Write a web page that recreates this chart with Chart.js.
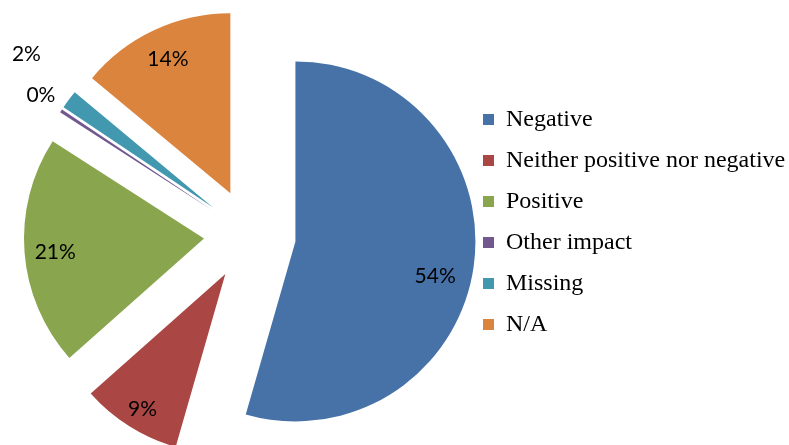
<!DOCTYPE html>
<html>
<head>
<meta charset="utf-8">
<script src="https://cdn.jsdelivr.net/npm/chart.js@4/dist/chart.umd.min.js"></script>
<style>
  html, body { margin: 0; padding: 0; background: #ffffff; }
  #wrap { width: 789px; height: 445px; }
</style>
</head>
<body>
<div id="wrap"><canvas id="chart"></canvas></div>
<script>
const categories = ["Negative", "Neither positive nor negative", "Positive", "Other impact", "Missing", "N/A"];
const shares = [54.45, 9.0, 20.65, 0.3, 1.65, 13.95];
const sliceColors = ["#4672a8", "#aa4643", "#89a54e", "#71588f", "#4198af", "#db843d"];

// label placement, as a fraction of the radius from each exploded slice's centre
const labelDist = [0.80, 0.88, 0.83, 1.14, 1.34, 0.82];
const labelTurn = [6, -0.7, -1, 0.5, 2.5, 0.1]; // degrees, clockwise

const EXPLODE = 46;
const RADIUS = 180;

// move every slice out along its middle angle (all slices same distance)
const explodePlugin = {
  id: "explode",
  beforeDatasetsDraw(chart) {
    const area = chart.chartArea;
    const cx = (area.left + area.right) / 2;
    const cy = (area.top + area.bottom) / 2;
    chart.getDatasetMeta(0).data.forEach((arc) => {
      const mid = (arc.startAngle + arc.endAngle) / 2;
      arc.x = cx + Math.cos(mid) * EXPLODE;
      arc.y = cy + Math.sin(mid) * EXPLODE;
    });
  },
};

const percentPlugin = {
  id: "percentLabels",
  afterDatasetsDraw(chart) {
    const ctx = chart.ctx;
    const meta = chart.getDatasetMeta(0);
    ctx.save();
    ctx.font = "21px Lato";
    ctx.fillStyle = "#000000";
    ctx.textAlign = "center";
    ctx.textBaseline = "middle";
    meta.data.forEach((arc, i) => {
      const mid = (arc.startAngle + arc.endAngle) / 2 + (labelTurn[i] * Math.PI) / 180;
      const r = arc.outerRadius * labelDist[i];
      const x = arc.x + Math.cos(mid) * r;
      const y = arc.y + Math.sin(mid) * r;
      ctx.fillText(Math.round(shares[i]) + "%", x, y);
    });
    ctx.restore();
  },
};

// put the legend where the original has it
const legendPlacePlugin = {
  id: "legendPlace",
  afterLayout(chart) {
    const legend = chart.legend;
    const dx = 466 - legend.left;
    const dy = -13;
    legend.left += dx;
    legend.right += dx;
    legend.top += dy;
    legend.bottom += dy;
  },
};

new Chart(document.getElementById("chart"), {
  type: "pie",
  data: {
    labels: categories,
    datasets: [
      {
        data: shares,
        backgroundColor: sliceColors,
        borderWidth: 0,
      },
    ],
  },
  options: {
    responsive: true,
    maintainAspectRatio: false,
    animation: false,
    radius: RADIUS,
    layout: {
      padding: { left: 40, top: 25, right: 0, bottom: 0 },
    },
    plugins: {
      legend: {
        position: "right",
        align: "center",
        labels: {
          color: "#000000",
          boxWidth: 11,
          boxHeight: 11,
          padding: 17,
          font: { family: "Liberation Serif", size: 24 },
        },
      },
      tooltip: { enabled: false },
    },
  },
  plugins: [explodePlugin, percentPlugin, legendPlacePlugin],
});
</script>
</body>
</html>
